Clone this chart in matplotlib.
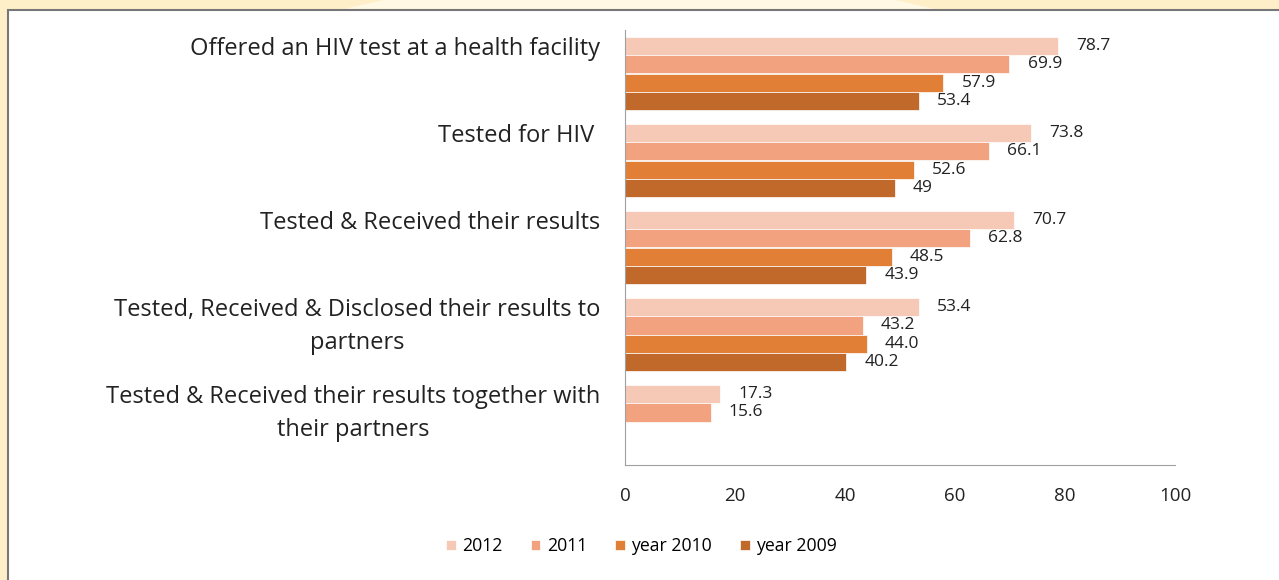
import numpy as np
import matplotlib.pyplot as plt
from matplotlib.patches import Rectangle, Polygon

plt.rcParams['font.family'] = ['Open Sans', 'DejaVu Sans']

categories = ['Offered an HIV test at a health facility',
              'Tested for HIV ',
              'Tested & Received their results',
              'Tested, Received & Disclosed their results to\npartners',
              'Tested & Received their results together with\ntheir partners']
series_names = ['2012', '2011', 'year 2010', 'year 2009']
v2012 = [78.7, 73.8, 70.7, 53.4, 17.3]
v2011 = [69.9, 66.1, 62.8, 43.2, 15.6]
v2010 = [57.9, 52.6, 48.5, 44.0, np.nan]
v2009 = [53.4, 49, 43.9, 40.2, np.nan]
label_text = {
    '2012': ['78.7', '73.8', '70.7', '53.4', '17.3'],
    '2011': ['69.9', '66.1', '62.8', '43.2', '15.6'],
    'year 2010': ['57.9', '52.6', '48.5', '44.0', ''],
    'year 2009': ['53.4', '49', '43.9', '40.2', ''],
}
colors = ['#F6C8B6', '#F2A27E', '#E07F35', '#C0692B']

fig = plt.figure(figsize=(12.79, 5.80), dpi=100)
fig.patch.set_facecolor('#FFEFC8')

# lighter background shape at the top strip
fig.patches.append(Polygon([(0.30, 1.0), (0.70, 1.0), (0.74, 0.98), (0.26, 0.98)],
                           closed=True, transform=fig.transFigure,
                           facecolor='#FFF8E4', edgecolor='none', zorder=-3))
# white panel
fig.patches.append(Rectangle((8 / 1279, -0.01), 1.0, (570 / 580) + 0.01,
                             transform=fig.transFigure, facecolor='white',
                             edgecolor='#777777', linewidth=1.5, zorder=-2))

ax = fig.add_axes([625 / 1279, 115 / 580, 550 / 1279, 435 / 580])
ax.set_facecolor('none')

y = np.arange(len(categories))
h = 0.207
all_vals = [v2012, v2011, v2010, v2009]
for k, (name, vals, c) in enumerate(zip(series_names, all_vals, colors)):
    pos = y + (k - 1.5) * h
    bars = ax.barh(pos, vals, height=h, color=c, label=name, edgecolor='white', linewidth=0.5)
    ax.bar_label(bars, labels=label_text[name], padding=13, fontsize=12.5, color='#222222')

ax.set_xlim(0, 100)
ax.set_ylim(len(categories) - 0.5, -0.5)
ax.set_xticks([0, 20, 40, 60, 80, 100])
ax.tick_params(axis='x', length=0, pad=16, labelsize=13.5, colors='#222222')
ax.set_yticks([])
for s in ['top', 'right']:
    ax.spines[s].set_visible(False)
ax.spines['left'].set_color('#A0A0A0')
ax.spines['bottom'].set_color('#A0A0A0')

for i, cat in enumerate(categories):
    ax.text(-4.5, i - 2 * h + 0.0, cat, ha='right', va='top', multialignment='center',
            fontsize=17, color='#222222', linespacing=1.45)

ax.legend(loc='upper center', bbox_to_anchor=(0.03, -0.13), ncol=4, frameon=False,
          fontsize=12.7, handlelength=0.55, handleheight=0.55, handletextpad=0.35,
          columnspacing=1.6)

fig.savefig('out.png', dpi=100, facecolor=fig.get_facecolor())
